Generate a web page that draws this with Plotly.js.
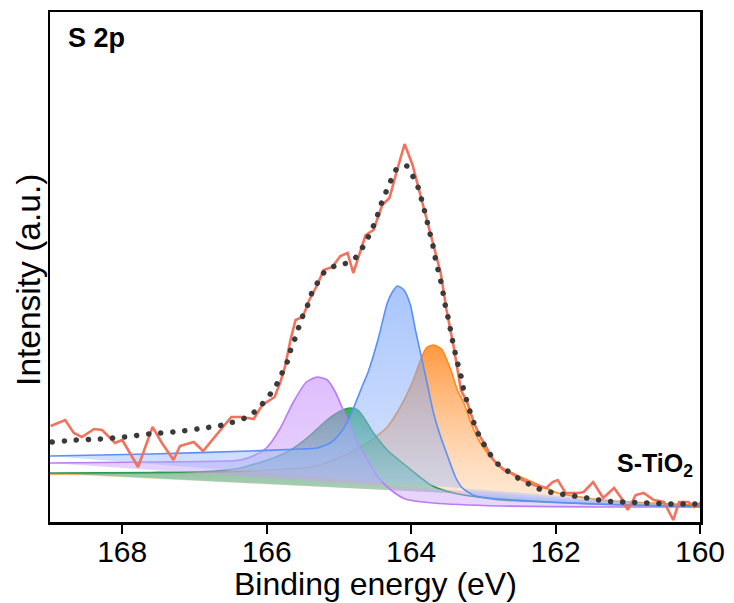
<!DOCTYPE html>
<html>
<head>
<meta charset="utf-8">
<script src="https://cdn.plot.ly/plotly-3.0.1.min.js"></script>
<style>
html,body{margin:0;padding:0;background:#fff;}
#chart{width:734px;height:603px;}
path.js-line[style*="0.1px"]{stroke-linecap:round !important;}
</style>
</head>
<body>
<div id="chart"></div>
<script>
// Raw spectrum (red line)
const rawE = [168.99,168.79,168.67,168.56,168.39,168.28,168.10,168.00,167.78,167.58,167.45,167.29,167.20,167.01,166.88,166.66,166.49,166.34,166.18,166.06,165.89,165.81,165.75,165.67,165.60,165.50,165.41,165.30,165.21,165.09,164.98,164.88,164.80,164.63,164.52,164.40,164.30,164.19,164.09,163.98,163.87,163.73,163.59,163.51,163.41,163.31,163.22,163.13,163.04,162.94,162.86,162.72,162.62,162.48,162.30,162.13,162.04,161.97,161.86,161.68,161.61,161.48,161.34,161.19,161.09,161.00,160.89,160.78,160.64,160.50,160.37,160.29,160.16,160.08,159.98];
const rawI = [96,102,89,85,93,92,79,82,55,95,79,62,76,80,71,90,105,105,103,117,125,140,154,182,202,205,222,237,252,255,266,269,249,287,292,317,324,353,378,357,327,289,249,212,175,132,119,99,85,72,62,52,49,43,37,34,40,42,29,29,30,40,24,34,24,12,27,29,22,20,2,20,20,15,20];

// Fitted envelope (dotted)
const fitE = [168.97,168.64,168.31,167.97,167.63,167.29,166.96,166.61,166.30,166.17,166.06,165.95,165.85,165.78,165.71,165.66,165.60,165.55,165.49,165.42,165.37,165.28,165.19,165.02,164.88,164.76,164.66,164.58,164.51,164.45,164.40,164.33,164.27,164.19,164.06,163.97,163.90,163.85,163.81,163.77,163.73,163.69,163.66,163.62,163.58,163.55,163.52,163.48,163.45,163.42,163.38,163.34,163.30,163.27,163.22,163.17,163.12,163.05,162.97,162.88,162.77,162.62,162.48,162.31,162.16,162.00,161.83,161.66,161.48,161.33,161.15,160.98,160.82,160.65,160.48,160.30,160.15,159.98];
const fitI = [80,82,83,85,88,90,93,97,104,110,118,128,139,150,161,174,185,196,208,219,230,241,251,257,259,265,276,287,298,310,321,333,343,354,356,345,334,321,310,298,286,274,262,250,238,226,214,202,190,179,166,154,143,131,119,107,97,85,75,65,56,49,42,36,31,29,27,25,23,21,20,20,19,19,18,18,18,18];

// Component: orange
const orangeE = [169.00,167.61,166.23,165.39,165.07,164.60,164.33,164.15,163.97,163.87,163.79,163.69,163.58,163.45,163.36,163.27,163.15,163.04,162.90,162.73,162.48,162.16,161.97,161.37,160.68,159.98];
const orangeI = [48,49,51,55,62,79,95,115,142,162,174,177,173,152,132,119,95,79,65,54,45,35,29,22,19,17];
// Component: green
const greenE = [169.00,167.61,166.82,166.36,165.91,165.67,165.44,165.21,165.07,164.95,164.84,164.74,164.66,164.52,164.33,164.05,163.73,163.41,162.76,161.37,159.98];
const greenI = [49,49.5,50.5,54,64,72,84,99,107,112,114,112,105,89,72,55,37,29,22,18,16];
// Component: purple
const purpleE = [169.00,167.61,166.36,166.16,165.99,165.81,165.63,165.45,165.30,165.16,165.05,164.94,164.84,164.73,164.60,164.46,164.28,164.08,163.69,162.76,161.37,159.98];
const purpleI = [59,60,62,67,75,94,120,140,145,142,130,112,95,77,62,45,32,23,19,16,15,15];
// Component: blue
const blueE = [169.00,167.61,166.23,165.53,165.30,165.12,164.98,164.87,164.77,164.67,164.60,164.46,164.33,164.26,164.19,164.10,164.01,163.94,163.87,163.77,163.69,163.59,163.49,163.38,163.29,163.11,162.76,162.07,161.09,159.98];
const blueI = [66,68,71,73,74,79,89,102,119,137,149,182,219,230,236,232,217,192,169,136,109,85,65,44,34,26,23,20,17,15];

const xTicks = [168,166,164,162,160];

function comp(x, y, line, top, bottom) {
  return {
    x: x, y: y, type: 'scatter', mode: 'lines',
    line: {color: line, width: 1.6, shape: 'spline', smoothing: 0.6},
    fill: 'toself',
    fillcolor: top,
    fillgradient: {type: 'vertical', colorscale: [[0, bottom], [1, top]]},
    hoverinfo: 'skip', showlegend: false
  };
}

const data = [
  comp(orangeE, orangeI, '#ff8a1a', 'rgba(255,135,30,0.85)', 'rgba(255,205,160,0.40)'),
  comp(greenE, greenI, '#2a9d55', 'rgba(30,165,80,0.90)', 'rgba(90,185,175,0.40)'),
  comp(purpleE, purpleI, '#b97cf6', 'rgba(195,135,250,0.55)', 'rgba(205,165,250,0.45)'),
  comp(blueE, blueI, '#5b8ff9', 'rgba(105,155,250,0.58)', 'rgba(170,195,250,0.45)'),
  {x: rawE, y: rawI, type: 'scatter', mode: 'lines',
   line: {color: '#f2725e', width: 2.6}, showlegend: false},
  {x: fitE, y: fitI, type: 'scatter', mode: 'lines',
   line: {color: '#3a3a3a', width: 5.5, dash: '0.1px,12px', shape: 'spline', smoothing: 0.6}, showlegend: false}
];

const layout = {
  width: 734, height: 603,
  margin: {l: 50, r: 34, t: 12, b: 81},
  paper_bgcolor: '#fff', plot_bgcolor: '#fff',
  font: {family: 'Liberation Sans, Arial, sans-serif', color: '#000'},
  showlegend: false,
  xaxis: {
    range: [169, 160], tickvals: xTicks, ticktext: xTicks.map(String),
    ticks: 'outside', ticklen: 9, tickwidth: 2, tickcolor: '#000',
    ticklabelstandoff: -8,
    tickfont: {size: 30, color: '#000'},
    showline: true, linecolor: '#000', linewidth: 2.5, mirror: true,
    showgrid: false, zeroline: false
  },
  yaxis: {
    range: [0, 510], showticklabels: false, ticks: '',
    showline: true, linecolor: '#000', linewidth: 2.5, mirror: true,
    showgrid: false, zeroline: false
  },
  annotations: [
    {text: '<b>S 2p</b>', xref: 'paper', yref: 'paper', x: 0.024, y: 0.949,
     xanchor: 'left', yanchor: 'middle', showarrow: false, font: {size: 27, color: '#000'}},
    {text: '<b>S-TiO<sub>2</sub></b>', xref: 'paper', yref: 'paper', x: 0.993, y: 0.112,
     xanchor: 'right', yanchor: 'middle', showarrow: false, font: {size: 25, color: '#000'}},
    {text: 'Binding energy (eV)', xref: 'paper', yref: 'paper', x: 0.5, y: -0.121,
     xanchor: 'center', yanchor: 'middle', showarrow: false, font: {size: 32, color: '#000'}},
    {text: 'Intensity (a.u.)', xref: 'paper', yref: 'paper', x: -0.034, y: 0.4745,
     xanchor: 'center', yanchor: 'middle', textangle: -90, showarrow: false, font: {size: 33.5, color: '#000'}}
  ]
};

Plotly.newPlot('chart', data, layout, {staticPlot: true, displayModeBar: false});
</script>
</body>
</html>
